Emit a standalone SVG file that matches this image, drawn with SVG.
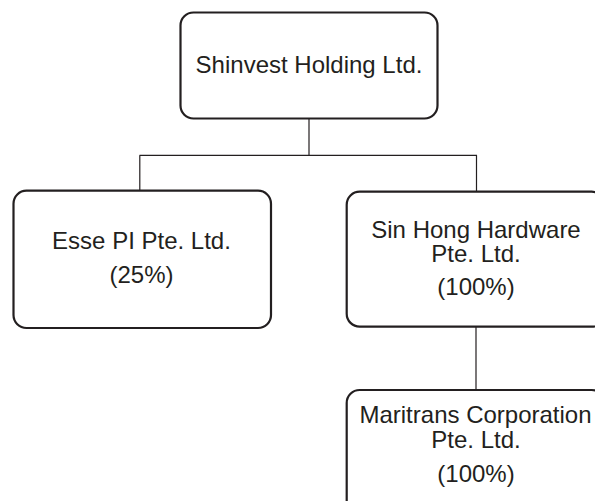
<svg xmlns="http://www.w3.org/2000/svg" width="595" height="501" viewBox="0 0 595 501">
<style>
.box{fill:#fff;stroke:#231f20;stroke-width:2.2}
.conn{fill:none;stroke:#231f20;stroke-width:1.2}
text{font-family:"Liberation Sans",Arial,sans-serif;font-size:24px;fill:#231f20;text-anchor:middle}
</style>
<rect width="595" height="501" fill="#fff"/>
<g id="connectors">
<path class="conn" d="M309 118.5V155.3M139.5 155.3H477M139.8 155.3V190.7M476.5 155.3V191.7M476 326.7V390"/>
</g>
<g id="shinvest">
<rect class="box" x="180.5" y="12.5" width="257" height="106" rx="13"/>
<text x="309" y="73">Shinvest Holding Ltd.</text>
</g>
<g id="esse">
<rect class="box" x="13.5" y="190.7" width="257.5" height="137.3" rx="13"/>
<text x="141.5" y="249">Esse PI Pte. Ltd.</text>
<text x="141.5" y="283">(25%)</text>
</g>
<g id="sinhong">
<rect class="box" x="346.7" y="191.7" width="258" height="135" rx="13"/>
<text x="476" y="238">Sin Hong Hardware</text>
<text x="476" y="262">Pte. Ltd.</text>
<text x="476" y="295">(100%)</text>
</g>
<g id="maritrans">
<rect class="box" x="346.7" y="390" width="258" height="136" rx="13"/>
<text x="475.5" y="423">Maritrans Corporation</text>
<text x="476" y="448">Pte. Ltd.</text>
<text x="476" y="482">(100%)</text>
</g>
</svg>
